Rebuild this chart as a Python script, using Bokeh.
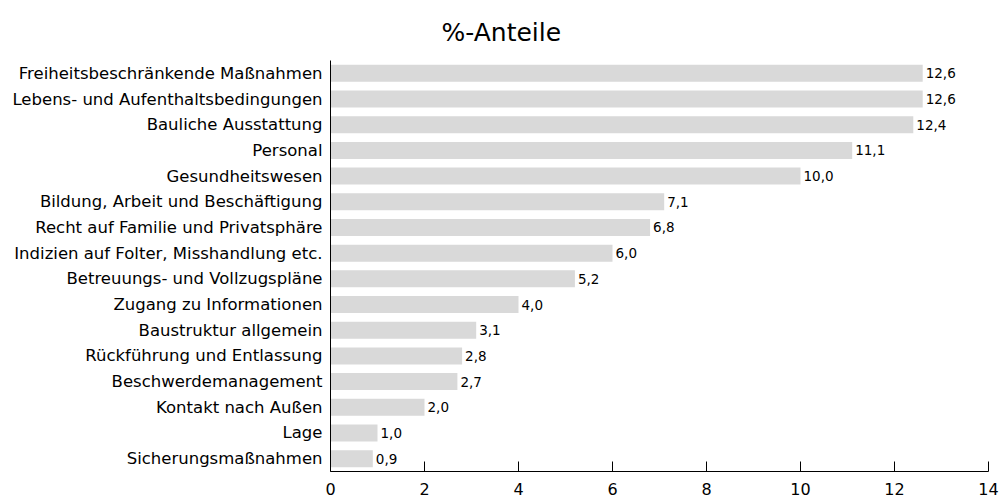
from bokeh.plotting import figure
from bokeh.models import ColumnDataSource, LabelSet, Title, FixedTicker, Range1d, FactorRange
from bokeh.core.properties import value
from bokeh.embed import file_html
from bokeh.resources import INLINE

categories = ["Freiheitsbeschränkende Maßnahmen", "Lebens- und Aufenthaltsbedingungen",
              "Bauliche Ausstattung", "Personal", "Gesundheitswesen",
              "Bildung, Arbeit und Beschäftigung", "Recht auf Familie und Privatsphäre",
              "Indizien auf Folter, Misshandlung etc.", "Betreuungs- und Vollzugspläne",
              "Zugang zu Informationen", "Baustruktur allgemein", "Rückführung und Entlassung",
              "Beschwerdemanagement", "Kontakt nach Außen", "Lage", "Sicherungsmaßnahmen"]
values = [12.6, 12.6, 12.4, 11.1, 10.0, 7.1, 6.8, 6.0, 5.2, 4.0, 3.1, 2.8, 2.7, 2.0, 1.0, 0.9]
x_ticks = [0, 2, 4, 6, 8, 10, 12, 14]
title_text = "%-Anteile"

FONT = "DejaVu Sans"

src = ColumnDataSource(dict(cat=categories, val=values,
                            lab=[f"{v:.1f}".replace(".", ",") for v in values]))

p = figure(width=1000, height=500, output_backend="svg", toolbar_location=None,
           y_range=FactorRange(*categories[::-1]), x_range=Range1d(0, 14),
           min_border_left=330, min_border_right=12, min_border_top=60, min_border_bottom=29)
p.title = None
p.outline_line_color = None
p.background_fill_color = "white"
p.border_fill_color = "white"
p.xgrid.grid_line_color = None
p.ygrid.grid_line_color = None

p.hbar(y="cat", right="val", left=0, height=0.66, source=src,
       fill_color="#d9d9d9", line_color=None)

p.add_layout(LabelSet(x="val", y="cat", text="lab", source=src, x_offset=3,
                      text_baseline="middle", text_font=value(FONT),
                      text_font_size="13.5px", text_color="#000000"))

# y axis
p.yaxis.major_tick_line_color = None
p.yaxis.minor_tick_line_color = None
p.yaxis.axis_line_color = "#000000"
p.yaxis.major_label_text_font = FONT
p.yaxis.major_label_text_font_size = "16.5px"
p.yaxis.major_label_text_color = "#000000"
p.yaxis.major_label_standoff = 8
p.yaxis.major_tick_out = 0

# x axis
p.xaxis.ticker = FixedTicker(ticks=x_ticks)
p.xaxis.minor_tick_line_color = None
p.xaxis.major_tick_in = 10
p.xaxis.major_tick_out = 0
p.xaxis.axis_line_color = "#000000"
p.xaxis.major_tick_line_color = "#000000"
p.xaxis.major_label_text_font = FONT
p.xaxis.major_label_text_font_size = "16px"
p.xaxis.major_label_text_color = "#000000"
p.xaxis.major_label_standoff = 11

p.add_layout(Title(text=title_text, align="left", offset=111, standoff=27,
                   text_font=FONT, text_font_size="25px", text_font_style="normal",
                   text_color="#000000"), "above")

open("out.html", "w").write(file_html(p, INLINE))
